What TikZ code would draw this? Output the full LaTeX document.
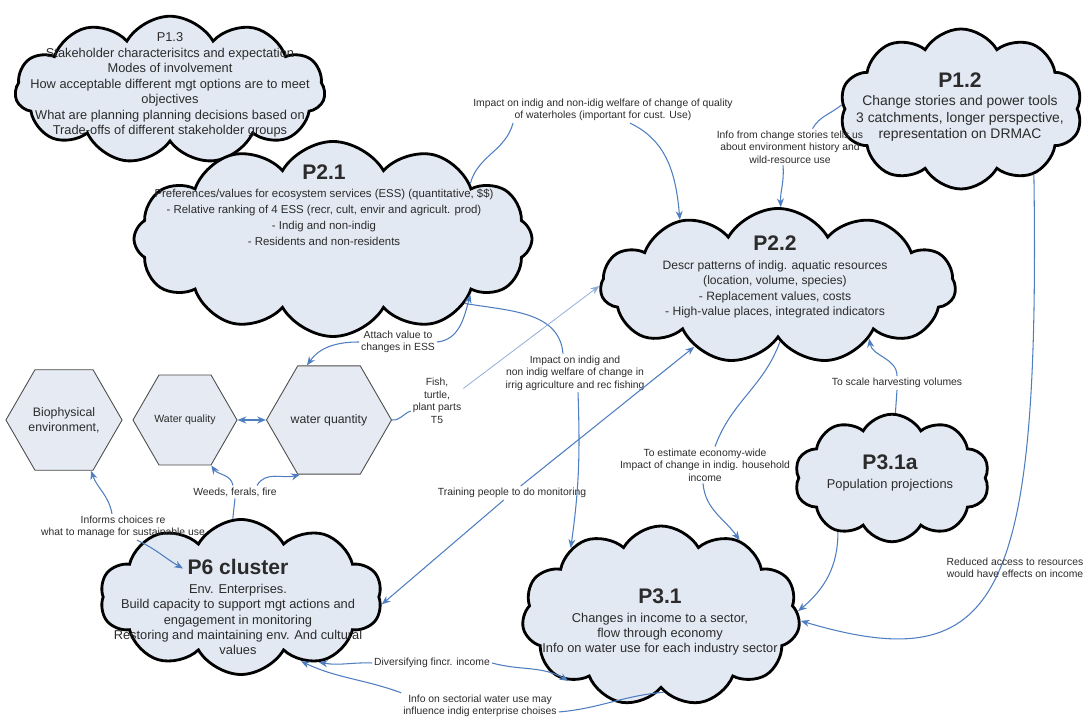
\documentclass[tikz,border=0pt]{standalone}
\usepackage{fontspec}
\setmainfont{Liberation Sans}
\usepackage{tikz}
\usetikzlibrary{positioning,shapes.symbols,shapes.geometric,arrows.meta}
\definecolor{cloudfill}{HTML}{E3E9F3}
\definecolor{hexfill}{HTML}{E6EAF2}
\definecolor{linkblue}{HTML}{4F7EC0}
\definecolor{palelink}{HTML}{8EADD8}
\definecolor{inkgrey}{HTML}{2B2B2B}

\newcommand{\ptitle}[1]{{\fontsize{12}{14}\selectfont\bfseries #1}}

\begin{document}
\begin{tikzpicture}[
    cloudbox/.style={cloud, cloud puffs=11, cloud puff arc=120, cloud ignores aspect,
      draw=black, line width=1.6pt, fill=cloudfill, inner sep=0pt},
    cloudtext/.style={align=center, text=inkgrey, font=\fontsize{7.3}{8.8}\selectfont, inner sep=0pt},
    hexbox/.style={regular polygon, regular polygon sides=6, draw=black!70, line width=0.5pt,
      fill=hexfill, inner sep=0pt, align=center, text=inkgrey, font=\fontsize{7}{8.6}\selectfont},
    lbl/.style={align=center, text=inkgrey, font=\fontsize{5.9}{7.1}\selectfont, inner sep=1pt},
    link/.style={draw=linkblue, line width=0.6pt},
    linkto/.style={link, -{Stealth[length=5pt,width=4pt]}},
    linkboth/.style={link, {Stealth[length=5pt,width=4pt]}-{Stealth[length=5pt,width=4pt]}},
    linkpale/.style={draw=palelink, line width=0.45pt, -{Stealth[length=5pt,width=4pt]}},
  ]
  \useasboundingbox (0,0) rectangle (21.68,14.36);

  % clouds
  \node[cloudbox, minimum width=6.2cm, minimum height=2.95cm] (p13) at (3.40,12.56) {};
  \node[cloudbox, cloud puffs=12, minimum width=7.96cm, minimum height=3.9cm] (p21) at (6.66,9.58) {};
  \node[cloudbox, cloud puffs=10, minimum width=4.86cm, minimum height=3.2cm] (p12) at (19.22,12.18) {};
  \node[cloudbox, minimum width=7.1cm, minimum height=3.1cm] (p22) at (15.56,8.64) {};
  \node[cloudbox, cloud puffs=10, minimum width=3.9cm, minimum height=2.55cm] (p31a) at (17.84,4.8) {};
  \node[cloudbox, minimum width=5.56cm, minimum height=3.6cm] (p31) at (13.22,2.04) {};
  \node[cloudbox, cloud puffs=10, minimum width=5.64cm, minimum height=3.1cm] (p6) at (4.82,2.42) {};

  \node[cloudtext] (p13txt) at (3.40,12.66) {P1.3\\
    Stakeholder characterisitcs and expectation\\
    Modes of involvement\\
    How acceptable different mgt options are to meet\\
    objectives\\
    What are planning planning decisions based on\\
    Trade-offs of different stakeholder groups};
  \node[cloudtext, font=\fontsize{6.5}{9.2}\selectfont] (p21txt) at (6.48,10.26) {\ptitle{P2.1}\\[1pt]
    Preferences/values for ecosystem services (ESS) (quantitative, \$\$)\\
    - Relative ranking of 4 ESS (recr, cult, envir and agricult. prod)\\
    - Indig and non-indig\\
    - Residents and non-residents};
  \node[cloudtext, font=\fontsize{7.9}{9.4}\selectfont] (p12txt) at (19.2,12.22) {\ptitle{P1.2}\\[1pt]
    Change stories and power tools\\
    3 catchments, longer perspective,\\
    representation on DRMAC};
  \node[cloudtext, font=\fontsize{6.9}{8.8}\selectfont] (p22txt) at (15.5,8.82) {\ptitle{P2.2}\\[2pt]
    Descr patterns of indig. aquatic resources\\
    (location, volume, species)\\
    - Replacement values, costs\\
    - High-value places, integrated indicators};
  \node[cloudtext] (p31atxt) at (17.8,4.9) {\ptitle{P3.1a}\\[2pt]
    Population projections};
  \node[cloudtext] (p31txt) at (13.2,1.92) {\ptitle{P3.1}\\[2pt]
    Changes in income to a sector,\\
    flow through economy\\
    Info on water use for each industry sector};
  \node[cloudtext] (p6txt) at (4.76,2.22) {\ptitle{P6 cluster}\\[2pt]
    Env. Enterprises.\\
    Build capacity to support mgt actions and\\
    engagement in monitoring\\
    Restoring and maintaining env. And cultural\\
    values};

  % hexagons
  \node[hexbox, minimum size=2.16cm] (bio) at (1.28,5.96) {Biophysical\\environment,};
  \node[hexbox, minimum size=2.08cm, font=\fontsize{6}{7.2}\selectfont] (wql) at (3.70,5.96) {Water quality};
  \node[hexbox, minimum size=2.36cm] (wqn) at (6.58,5.96) {water quantity};

  % link labels
  \node[lbl] (lwh) at (12.06,12.16) {Impact on indig and non-idig welfare of change of quality\\of waterholes (important for cust. Use)};
  \node[lbl] (lcs) at (15.8,11.42) {Info from change stories tells us\\about environment history and\\wild-resource use};
  \node[lbl] (latt) at (7.96,7.52) {Attach value to\\changes in ESS};
  \node[lbl] (lfish) at (8.74,6.34) {Fish,\\turtle,\\plant parts\\T5};
  \node[lbl] (lirr) at (11.5,6.9) {Impact on indig and\\non indig welfare of change in\\irrig agriculture and rec fishing};
  \node[lbl] (ltr) at (10.24,4.5) {Training people to do monitoring};
  \node[lbl] (lest) at (14.1,5.06) {To estimate economy-wide\\Impact of change in indig. household\\income};
  \node[lbl] (lsc) at (17.94,6.7) {To scale harvesting volumes};
  \node[lbl] (lwff) at (4.7,4.52) {Weeds, ferals, fire};
  \node[lbl] (linf) at (2.46,3.82) {Informs choices re\\what to manage for sustainable use};
  \node[lbl] (ldiv) at (8.64,1.1) {Diversifying fincr. income};
  \node[lbl] (lsec) at (9.6,0.24) {Info on sectorial water use may\\influence indig enterprise choises};

  % links
  \draw[link] (p21.22) to[out=75, in=-105] ([xshift=-1.8cm]lwh.south);
  \draw[linkto] ([xshift=0.54cm]lwh.south) to[out=-25, in=95] (p22.146);

  \draw[link] (p12.178) to[out=-140, in=60] ([xshift=0.45cm]lcs.north);
  \draw[linkto] ([xshift=-0.14cm]lcs.south) to[out=-85, in=92] (p22.88);

  \draw[linkto] (p12.-42) .. controls (20.8,2.36) and (20.0,0.76) .. (p31.-2);

  \draw[link] (p22.-88) to[out=-110, in=70] ([xshift=0.2cm]lest.north);
  \draw[linkto] ([xshift=-0.04cm]lest.south) to[out=-85, in=125] (p31.44);

  \draw[link] (p31a.87) -- (lsc.south);
  \draw[linkto] (lsc.north) to[out=90, in=-80] (p22.-30);

  \draw[linkto] (p31a.-135) to[out=-90, in=40] (p31.2);

  \draw[link] (p21.-26) to[out=-10, in=95] ([xshift=-0.24cm]lirr.north);
  \draw[linkto] ([xshift=0.06cm]lirr.south) to[out=-88, in=82] (p31.143);

  \draw[linkto] (latt.west) to[out=180, in=55] (wqn.112);
  \draw[linkto] (latt.east) to[out=5, in=-105] (p21.-22);

  \draw[link] (wqn.east) to[out=-5, in=200] ([yshift=-0.2cm]lfish.west);
  \draw[linkpale] ([yshift=0.25cm]lfish.east) -- (p22.180);

  \draw[linkboth, line width=0.9pt] (wql.east) -- (wqn.west);

  \draw[link] (p6.96) -- (lwff.south);
  \draw[linkto] ([xshift=-0.04cm]lwff.north) to[out=100, in=-55] (wql.-60);
  \draw[linkto] ([xshift=0.44cm]lwff.north) to[out=60, in=195] (wqn.-118);

  \draw[linkto] ([xshift=-0.22cm]linf.north) to[out=100, in=-70] (bio.-62);
  \draw[linkto] ([xshift=0.28cm]linf.south) to[out=-25, in=150] ([xshift=-1.1cm,yshift=-0.2cm]p6txt.north);

  \draw[linkto] (ltr) -- (p22.-144);
  \draw[linkto] (ltr) -- (p6.-3);

  \draw[linkto] (ldiv.west) to[out=178, in=-10] (p6.-40);
  \draw[linkto] (ldiv.east) to[out=-15, in=150] (p31.-145);

  \draw[link] (p31.-88) to[out=185, in=5] ([yshift=-0.12cm]lsec.east);
  \draw[linkto] (lsec.north west) to[out=160, in=-25] (p6.-47);

  % label sits on top of the long right-hand link
  \node[lbl] (lred) at (20.3,3.0) {Reduced access to resources\\would have effects on income};
\end{tikzpicture}
\end{document}
